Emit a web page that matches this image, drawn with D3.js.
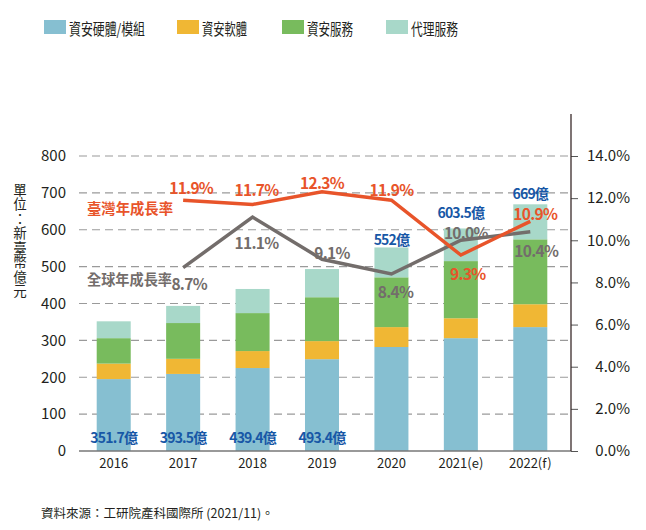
<!DOCTYPE html>
<html><head><meta charset="utf-8">
<script src="https://cdn.jsdelivr.net/npm/d3@7"></script>
<style>
body{margin:0;background:#fff;}
text{font-family:"Noto Sans CJK TC","Noto Sans",sans-serif;}
</style></head>
<body>
<svg id="c" width="646" height="530"></svg>
<script>
const years = ["2016","2017","2018","2019","2020","2021(e)","2022(f)"];
const hardware = [195, 209, 225, 249, 282, 306, 336];
const software = [42, 41, 46, 49, 54, 54, 62];
const services = [69, 97, 103, 119, 135, 155, 176];
const agency = [45.7, 46.5, 65.4, 76.4, 81, 88.5, 95];
const totalLabels = ["351.7億","393.5億","439.4億","493.4億","552億","603.5億","669億"];
const twGrowthYears = ["2017","2018","2019","2020","2021(e)","2022(f)"];
const twGrowth = [11.9, 11.7, 12.3, 11.9, 9.3, 10.9];
const globalGrowth = [8.7, 11.1, 9.1, 8.4, 10.0, 10.4];
const seriesNames = ["資安硬體/模組","資安軟體","資安服務","代理服務"];
const leftTicks = [0,100,200,300,400,500,600,700,800];
const rightTicks = [0,2,4,6,8,10,12,14];

const colors = ["#86bfd1","#f0b734","#78bb5d","#a8d8c9"];
const orange = "#e8542a", gray = "#736d6b", blueText = "#1757a6";

const svg = d3.select("#c");
const x = d3.scaleBand().domain(years).range([79,565]).paddingInner(0.51).paddingOuter(0.255);
const y = d3.scaleLinear().domain([0,800]).range([451,156]);
const yr = d3.scaleLinear().domain([0,14]).range([451,156]);

// grid
svg.append("g").selectAll("line").data(leftTicks.filter(d=>d>0)).join("line")
  .attr("x1",79).attr("x2",571).attr("y1",d=>y(d)).attr("y2",d=>y(d))
  .attr("stroke","#9a9a9a").attr("stroke-width",1.2).attr("stroke-dasharray","8,5");

// left axis labels
const la = d3.axisLeft(y).tickValues(leftTicks).tickSize(0).tickPadding(0);
const gl = svg.append("g").attr("transform","translate(66,0)").call(la);
gl.select(".domain").remove();
gl.selectAll("text").attr("font-size",15).attr("fill","#231f20").attr("font-family","Lato, 'Noto Sans', sans-serif");

// stacked bars
const rows = years.map((yv,i)=>({year:yv, h:hardware[i], s:software[i], v:services[i], a:agency[i]}));
const stack = d3.stack().keys(["h","s","v","a"])(rows);
svg.append("g").selectAll("g").data(stack).join("g").attr("fill",(d,i)=>colors[i])
  .selectAll("rect").data(d=>d).join("rect")
  .attr("x",d=>x(d.data.year)).attr("width",x.bandwidth())
  .attr("y",d=>y(d[1])).attr("height",d=>y(d[0])-y(d[1]));

// zero baseline
svg.append("line").attr("x1",79).attr("x2",571).attr("y1",y(0)).attr("y2",y(0))
  .attr("stroke","#777").attr("stroke-width",1.3);

// right axis
const ra = d3.axisRight(yr).tickValues(rightTicks).tickSize(7).tickFormat(d=>d3.format(".1f")(d)+"%");
const gr = svg.append("g").attr("transform","translate(571,0)").call(ra);
gr.select(".domain").remove();
gr.selectAll(".tick line").attr("stroke","#555");
gr.selectAll("text").attr("font-size",15).attr("fill","#231f20").attr("text-anchor","end").attr("x",59)
  .attr("font-family","Lato, 'Noto Sans', sans-serif");
svg.append("line").attr("x1",571).attr("x2",571).attr("y1",114).attr("y2",y(0)).attr("stroke","#3a2a2a").attr("stroke-width",1.3);

// x labels
const xa = d3.axisBottom(x).tickSize(0).tickPadding(8);
const gx = svg.append("g").attr("transform",`translate(0,${y(0)})`).call(xa);
gx.select(".domain").remove();
gx.selectAll("text").attr("font-size",13).attr("fill","#231f20").attr("font-family","Lato, 'Noto Sans', sans-serif");

// lines
const cx = d=>x(d)+x.bandwidth()/2;
const lineGen = d3.line().x(d=>cx(d[0])).y(d=>yr(d[1]));
const gData = twGrowthYears.map((yv,i)=>[yv,globalGrowth[i]]);
const tData = twGrowthYears.map((yv,i)=>[yv,twGrowth[i]]);
svg.append("path").datum(gData).attr("d",lineGen).attr("fill","none").attr("stroke",gray).attr("stroke-width",3.5);
svg.append("path").datum(tData).attr("d",lineGen).attr("fill","none").attr("stroke",orange).attr("stroke-width",3.5);

// labels
const pctFont = "'Lato','Noto Sans',sans-serif";
const twOff = [[8,-13],[4,-15],[0,-10],[0,-11],[7,18],[5,-8]];
const glOff = [[6,15],[4,25],[10,-7],[4,17],[5,-8],[6,18]];
svg.append("g").selectAll("text").data(tData).join("text")
  .attr("x",(d,i)=>cx(d[0])+twOff[i][0]).attr("y",(d,i)=>yr(d[1])+twOff[i][1])
  .attr("text-anchor","middle").attr("dominant-baseline","central")
  .attr("font-size",15.5).attr("font-weight","bold").attr("letter-spacing",-0.7).attr("fill",orange).attr("font-family",pctFont)
  .text(d=>d3.format(".1f")(d[1])+"%");
svg.append("g").selectAll("text").data(gData).join("text")
  .attr("x",(d,i)=>cx(d[0])+glOff[i][0]).attr("y",(d,i)=>yr(d[1])+glOff[i][1])
  .attr("text-anchor","middle").attr("dominant-baseline","central")
  .attr("font-size",15.5).attr("font-weight","bold").attr("letter-spacing",-0.7).attr("fill",gray).attr("font-family",pctFont)
  .text(d=>d3.format(".1f")(d[1])+"%");

svg.append("text").attr("x",87).attr("y",207).attr("dominant-baseline","central")
  .attr("font-size",14.5).attr("font-weight","bold").attr("fill",orange)
  .attr("textLength",86).attr("lengthAdjust","spacingAndGlyphs").text("臺灣年成長率");
svg.append("text").attr("x",87).attr("y",278).attr("dominant-baseline","central")
  .attr("font-size",14.5).attr("fill",gray).attr("font-weight","bold")
  .attr("textLength",85).attr("lengthAdjust","spacingAndGlyphs").text("全球年成長率");

// totals
const totals = rows.map(r=>r.h+r.s+r.v+r.a);
const totOff = [null,null,null,null,-8,-16,-11];
svg.append("g").selectAll("text").data(years).join("text")
  .attr("x",d=>cx(d)).attr("y",(d,i)=> totOff[i]===null ? y(0)-14 : y(totals[i])+totOff[i])
  .attr("text-anchor","middle").attr("dominant-baseline","central")
  .attr("font-size",14).attr("font-weight","bold").attr("letter-spacing",-0.8).attr("fill",blueText)
  .text((d,i)=>totalLabels[i]);

// legend
const legX = [44,177,282,386];
const legLen = [76,45,46,47];
const lg = svg.append("g").selectAll("g").data(seriesNames).join("g").attr("transform",(d,i)=>`translate(${legX[i]},20)`);
lg.append("rect").attr("width",22).attr("height",14).attr("fill",(d,i)=>colors[i]);
lg.append("text").attr("x",25).attr("y",7.5).attr("dominant-baseline","central").attr("font-size",15.5).attr("fill","#231f20")
  .attr("textLength",(d,i)=>legLen[i]).attr("lengthAdjust","spacingAndGlyphs").text(d=>d);

// y title vertical
svg.append("text").attr("x",20).attr("y",183)
  .style("writing-mode","vertical-rl").style("text-orientation","upright")
  .attr("font-size",13.5).attr("letter-spacing",1).attr("fill","#231f20").text("單位：新臺幣億元");

// source
svg.append("text").attr("x",41).attr("y",512).attr("dominant-baseline","central")
  .attr("font-size",12.5).attr("fill","#231f20").text("資料來源：工研院產科國際所 (2021/11)。");
</script>
</body></html>
